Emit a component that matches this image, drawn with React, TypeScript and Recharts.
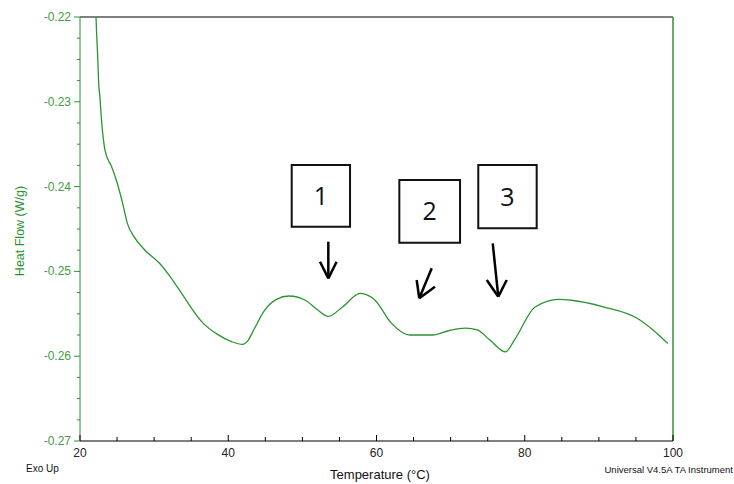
import React from 'react';
import { LineChart, Line, XAxis, YAxis, ReferenceLine, ReferenceArea } from 'recharts';

// DSC trace (temperature °C, heat flow W/g)
const temps = [
  22.16, 22.25, 22.39, 22.52, 22.7, 22.83, 22.93, 23.14, 23.37, 24.28, 25.03, 25.76,
  26.38, 27.28, 28.77, 30.79, 32.14, 33.26, 36.6, 38.5, 40.5, 41.9, 42.7, 43.5, 44.9,
  46.5, 48.2, 50.4, 52.0, 53.5, 55.4, 57.8, 59.8, 62.0, 64.5, 67.6, 69.7, 72.0, 73.6,
  75.3, 77.4, 78.6, 81.4, 84.6, 86.3, 90.7, 95.1, 97.3, 99.3,
];
const heatFlow = [
  -0.22, -0.2221, -0.2247, -0.2278, -0.2296, -0.2313, -0.2325, -0.2343, -0.2357, -0.2377,
  -0.2396, -0.242, -0.2443, -0.2459, -0.2475, -0.2491, -0.2506, -0.252, -0.2561, -0.2574,
  -0.2583, -0.2586, -0.2581, -0.2568, -0.2546, -0.2533, -0.2529, -0.2534, -0.2545, -0.2553,
  -0.2542, -0.2526, -0.2534, -0.2561, -0.2575, -0.2575, -0.257, -0.2567, -0.2569, -0.2581,
  -0.2595, -0.2581, -0.2542, -0.2533, -0.2534, -0.2542, -0.2555, -0.2569, -0.2585,
];

const xTicks = [20, 25, 30, 35, 40, 45, 50, 55, 60, 65, 70, 75, 80, 85, 90, 95, 100];
const xLabels = [20, 40, 60, 80, 100];
const yTicks = [
  -0.27, -0.2675, -0.265, -0.2625, -0.26, -0.2575, -0.255, -0.2525, -0.25, -0.2475,
  -0.245, -0.2425, -0.24, -0.2375, -0.235, -0.2325, -0.23, -0.2275, -0.225, -0.2225, -0.22,
];
const yLabels = [-0.27, -0.26, -0.25, -0.24, -0.23, -0.22];

// annotation boxes: label, x1, x2, y1, y2 (data units)
const boxLabels = ['1', '2', '3'];
const boxX1 = [48.56, 63.08, 73.73];
const boxX2 = [56.43, 71.27, 81.61];
const boxY1 = [-0.23745, -0.23922, -0.23745];
const boxY2 = [-0.24473, -0.24662, -0.24492];

// arrows: tail -> tip, plus two wing ends
const arrowTail = [[53.5, -0.2465], [67.45, -0.24963], [75.68, -0.24669]];
const arrowTip = [[53.5, -0.25082], [65.77, -0.25317], [76.43, -0.25298]];
const arrowWingA = [[52.38, -0.24886], [65.42, -0.25101], [74.87, -0.25101]];
const arrowWingB = [[54.62, -0.24886], [67.89, -0.2518], [77.57, -0.25101]];

const data = temps.map((t, i) => ({ t, hf: heatFlow[i] }));

const GREEN = '#2b9430';
const FONT = '"Liberation Sans", Arial, sans-serif';

const XTick = (props: any) => {
  const { x, y, payload } = props;
  const major = xLabels.includes(payload.value);
  return (
    <g>
      <line x1={x} x2={x} y1={y} y2={y - (major ? 6 : 4)} stroke="#000" strokeWidth={1} />
      {major && (
        <text x={x} y={y + 16} textAnchor="middle" fontSize={12} fill="#222" fontFamily={FONT}>
          {payload.value}
        </text>
      )}
    </g>
  );
};

const YTick = (props: any) => {
  const { x, y, payload } = props;
  const major = yLabels.some((v) => Math.abs(v - payload.value) < 1e-6);
  return (
    <g>
      <line x1={x - (major ? 6 : 3)} x2={x} y1={y} y2={y} stroke={GREEN} strokeWidth={1} />
      {major && (
        <text x={x - 9} y={y + 4} textAnchor="end" fontSize={12} fill="#3f9e3f" fontFamily={FONT}>
          {payload.value.toFixed(2)}
        </text>
      )}
    </g>
  );
};

const pt = (p: number[]) => ({ x: p[0], y: p[1] });

export default function App() {
  return (
    <div style={{ position: 'absolute', left: 0, top: 0, width: 734, height: 484, background: '#fff' }}>
      <LineChart width={734} height={484} data={data} margin={{ top: 17, right: 61, bottom: 23, left: 0 }}>
        <XAxis
          type="number"
          dataKey="t"
          domain={[20, 100]}
          ticks={xTicks}
          interval={0}
          tickSize={0}
          tickMargin={0}
          tickLine={false}
          tick={<XTick />}
          axisLine={{ stroke: '#000' }}
          height={20}
        />
        <YAxis
          type="number"
          domain={[-0.27, -0.22]}
          ticks={yTicks}
          interval={0}
          tickSize={0}
          tickMargin={0}
          tickLine={false}
          tick={<YTick />}
          axisLine={{ stroke: GREEN }}
          width={80}
        />
        <ReferenceLine y={-0.22} stroke="#7f7f7f" strokeWidth={2} />
        <ReferenceLine x={100} stroke={GREEN} strokeWidth={1.5} />
        <Line
          type="monotone"
          dataKey="hf"
          stroke={GREEN}
          strokeWidth={1.3}
          dot={false}
          isAnimationActive={false}
        />
        {boxLabels.map((lab, i) => (
          <ReferenceArea
            key={'b' + i}
            x1={boxX1[i]}
            x2={boxX2[i]}
            y1={boxY1[i]}
            y2={boxY2[i]}
            fill="#fff"
            fillOpacity={1}
            stroke="#111"
            strokeWidth={2}
            label={{ value: lab, position: 'center', fontSize: 25, fill: '#111', fontFamily: '"Open Sans", sans-serif' }}
          />
        ))}
        {arrowTail.map((p, i) => (
          <ReferenceLine key={'s' + i} segment={[pt(p), pt(arrowTip[i])]} stroke="#000" strokeWidth={2.5} />
        ))}
        {arrowWingA.map((p, i) => (
          <ReferenceLine key={'wa' + i} segment={[pt(p), pt(arrowTip[i])]} stroke="#000" strokeWidth={2.5} />
        ))}
        {arrowWingB.map((p, i) => (
          <ReferenceLine key={'wb' + i} segment={[pt(p), pt(arrowTip[i])]} stroke="#000" strokeWidth={2.5} />
        ))}
      </LineChart>
      <svg width={734} height={484} style={{ position: 'absolute', left: 0, top: 0, pointerEvents: 'none' }}>
        <text
          x={20}
          y={231}
          transform="rotate(-90 20 231)"
          textAnchor="middle"
          dominantBaseline="central"
          fontSize={12.5}
          fill={GREEN}
          fontFamily={FONT}
        >
          Heat Flow (W/g)
        </text>
        <text x={380} y={479} textAnchor="middle" fontSize={13} fill="#111" fontFamily={FONT}>
          Temperature (°C)
        </text>
        <text x={26} y={472} fontSize={10} fill="#111" fontFamily={FONT}>
          Exo Up
        </text>
        <text x={733} y={473} textAnchor="end" fontSize={9.5} fill="#111" fontFamily={FONT}>
          Universal V4.5A TA Instrument
        </text>
      </svg>
    </div>
  );
}
